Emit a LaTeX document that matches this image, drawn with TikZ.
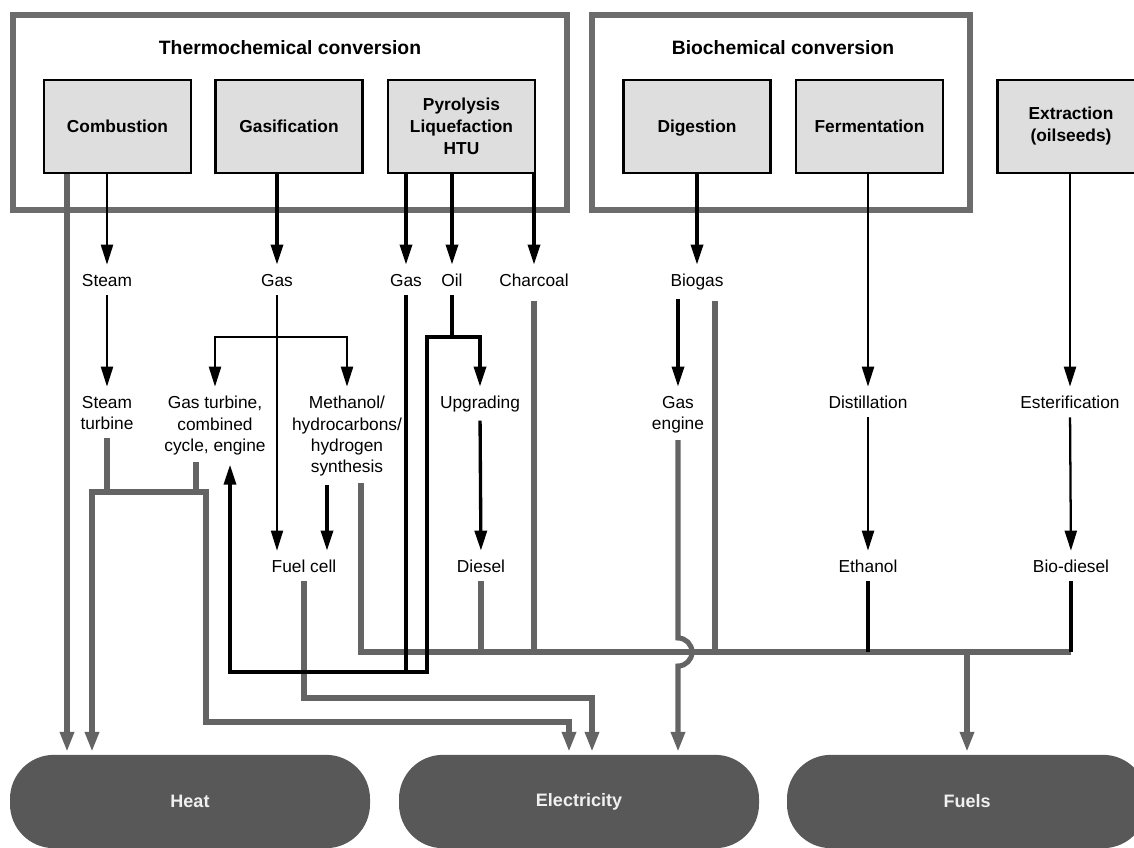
\documentclass[tikz,border=0pt]{standalone}
\usepackage{fontspec}
\setmainfont{Liberation Sans}
\usetikzlibrary{arrows.meta,calc}
\definecolor{lgray}{RGB}{100,100,100}
\definecolor{grpgray}{RGB}{108,108,108}
\definecolor{boxfill}{RGB}{222,222,222}
\definecolor{outfill}{RGB}{88,88,88}
\definecolor{outtext}{RGB}{240,240,240}
\begin{document}
\begin{tikzpicture}[x=0.75pt,y=-0.75pt,
  grp/.style={draw=grpgray, line width=4.3pt, inner sep=0pt},
  ttl/.style={font=\fontsize{14.5}{17}\selectfont\bfseries, inner sep=0pt},
  pbox/.style={draw=black, line width=2.2pt, fill=boxfill, minimum width=110.25pt, minimum height=69.75pt,
    font=\fontsize{13}{16.5}\selectfont\bfseries, align=center, inner sep=0pt},
  lab/.style={font=\fontsize{13}{16}\selectfont, align=center, inner sep=0pt, anchor=north},
  outbox/.style={fill=outfill, rounded corners=33pt, minimum width=270pt, minimum height=70pt,
    font=\fontsize{13.5}{16}\selectfont\bfseries, text=outtext, inner sep=0pt},
  bk/.style={draw=black, line width=1.7pt},
  bkthin/.style={draw=black, line width=1.3pt},
  bkt/.style={draw=black, line width=2.5pt},
  barr/.style={-{Triangle[length=15pt,width=9pt]}, shorten >=7pt},
  barrboth/.style={{Triangle[length=15pt,width=9pt]}-{Triangle[length=15pt,width=9pt]}, shorten >=7pt, shorten <=7pt},
  gl/.style={draw=lgray, line width=3.8pt},
  garr/.style={-{Triangle[length=15pt,width=10pt]}, shorten >=2pt},
  garrboth/.style={{Triangle[length=15pt,width=10pt]}-{Triangle[length=15pt,width=10pt]}, shorten >=2pt, shorten <=2pt}
]
\useasboundingbox (0,0) rectangle (1134,847);
\clip (0,0) rectangle (1134,847);

% group boxes
\node[grp, minimum width=415.5pt, minimum height=146.25pt] (thermo) at (290,112.5) {};
\node[grp, minimum width=283.5pt, minimum height=146.25pt] (bio) at (781,112.5) {};
\node[ttl] (thermottl) at (290,48) {Thermochemical conversion};
\node[ttl] (biottl) at (783,48) {Biochemical conversion};

% process boxes
\node[pbox] (comb) at (117.5,126.5) {Combustion};
\node[pbox] (gasif) at (289,126.5) {Gasification};
\node[pbox] (pyro) at (461.5,126.5) {Pyrolysis\\Liquefaction\\HTU};
\node[pbox, text depth=0pt] (dig) at (697,126.5) {Digestion};
\node[pbox] (ferm) at (869.5,126.5) {Fermentation};
\node[pbox] (extr) at (1071,126.5) {Extraction\\(oilseeds)};

% row 1
\node[lab] (steam) at (107,274) {Steam};
\node[lab] (gasA) at (277,274) {Gas};
\node[lab] (gasB) at (406,274) {Gas};
\node[lab] (oil) at (452,274) {Oil};
\node[lab] (charcoal) at (534,274) {Charcoal};
\node[lab] (biogas) at (697,274) {Biogas};

% row 2
\node[lab] (steamturb) at (107,396) {Steam\\turbine};
\node[lab] (gasturb) at (215,396) {Gas turbine,\\combined\\cycle, engine};
\node[lab] (methanol) at (347,396) {Methanol/\\hydrocarbons/\\hydrogen\\synthesis};
\node[lab] (upgrading) at (480,396) {Upgrading};
\node[lab] (gasengine) at (678,396) {Gas\\engine};
\node[lab] (distill) at (868,396) {Distillation};
\node[lab] (ester) at (1070,396) {Esterification};

% row 3
\node[lab] (fuelcell) at (304,560) {Fuel cell};
\node[lab] (diesel) at (481,560) {Diesel};
\node[lab] (ethanol) at (868,560) {Ethanol};
\node[lab] (biodiesel) at (1071,560) {Bio-diesel};

% outputs
\node[outbox] (heat) at (190,801.5) {Heat};
\node[outbox] (elec) at (579,801.5) {Electricity};
\node[outbox] (fuels) at (967,801.5) {Fuels};

% helper coordinates
\coordinate (gbr) at (277,337);
\coordinate (obrL) at (427,337);
\coordinate (loopL) at (230,672);
\coordinate (busy) at (0,652);
\coordinate (hx1) at (67,0);
\coordinate (hx2) at (92,0);
\coordinate (sj) at (0,492);
\coordinate (gtx) at (196,0);
\coordinate (ex1) at (206,722);
\coordinate (ex1end) at (569,0);
\coordinate (mfx) at (327,0);
\coordinate (mgx) at (361,0);
\coordinate (fcy) at (592,698);
\coordinate (bgx) at (715,0);
\coordinate (hop) at (0,638);

% grey connectors
\draw[gl, garr] (comb.south -| hx1) -- (heat.north -| hx1);
\draw[gl, garrboth] (heat.north -| hx2) -- (hx2 |- sj) -- (ex1 |- sj) -- (ex1) -- (ex1end |- ex1) -- (elec.north -| ex1end);
\draw[gl, shorten <=6pt] (steamturb.south) -- (steamturb.south |- sj);
\draw[gl, shorten <=5pt] (gasturb.south -| gtx) -- (gtx |- sj);
\draw[gl, shorten <=5pt] (methanol.south -| mgx) -- (mgx |- busy) -- (biodiesel.south |- busy);
\draw[gl, garr, shorten <=6pt] (fuelcell.south) -- (fuelcell.south |- fcy) -- (fcy) -- (elec.north -| fcy);
\draw[gl, shorten <=6pt] (diesel.south) -- (diesel.south |- busy);
\draw[gl, shorten <=10pt] (charcoal.south) -- (charcoal.south |- busy);
\draw[gl, shorten <=8pt] (biogas.south -| bgx) -- (bgx |- busy);
\draw[gl, garr] (fuels.north |- busy) -- (fuels.north);
\draw[gl, garr, shorten <=5pt] (gasengine.south) -- (gasengine.south |- hop)
  arc[start angle=-90, end angle=90, radius=14] -- (elec.north -| gasengine.south);

% black connectors
\draw[bk, barr] (comb.south -| steam.north) -- (steam.north);
\draw[bkt, barr] (gasif.south -| gasA.north) -- (gasA.north);
\draw[bkt, barr] (pyro.south -| gasB.north) -- (gasB.north);
\draw[bkt, barr] (pyro.south -| oil.north) -- (oil.north);
\draw[bkt, barr] (pyro.south -| charcoal.north) -- (charcoal.north);
\draw[bkt, barr] (dig.south -| biogas.north) -- (biogas.north);
\draw[bk, barr] (ferm.south -| distill.north) -- (distill.north);
\draw[bk, barr] (extr.south -| ester.north) -- (ester.north);
\draw[bk, barr, shorten <=6pt] (steam.south) -- (steamturb.north);
\draw[bkthin, barr, shorten <=6pt] (gasA.south) -- (fuelcell.north -| gasA.south);
\draw[bk, barrboth] (gasturb.north) -- (gasturb.north |- gbr) -- (methanol.north |- gbr) -- (methanol.north);
\draw[bkt, shorten <=6pt] (oil.south) -- (oil.south |- obrL);
\draw[bkt, barrboth] (upgrading.north) -- (upgrading.north |- obrL) -- (obrL) -- (obrL |- loopL) -- (loopL) -- (gasturb.south -| loopL);
\draw[bkt, shorten <=6pt] (gasB.south) -- (gasB.south |- loopL);
\draw[bkt, barr, shorten <=6pt] (upgrading.south) -- (diesel.north);
\draw[bkt, barr, shorten <=6pt] (methanol.south -| mfx) -- (fuelcell.north -| mfx);
\draw[bkt, barr, shorten <=6pt] (biogas.south -| gasengine.north) -- (gasengine.north);
\draw[bk, barr, shorten <=6pt] (distill.south) -- (ethanol.north);
\draw[bk, barr, shorten <=6pt] (ester.south) -- (biodiesel.north);
\draw[bkt, shorten <=6pt] (ethanol.south) -- (ethanol.south |- busy);
\draw[bkt, shorten <=6pt] (biodiesel.south) -- (biodiesel.south |- busy);
\end{tikzpicture}
\end{document}
